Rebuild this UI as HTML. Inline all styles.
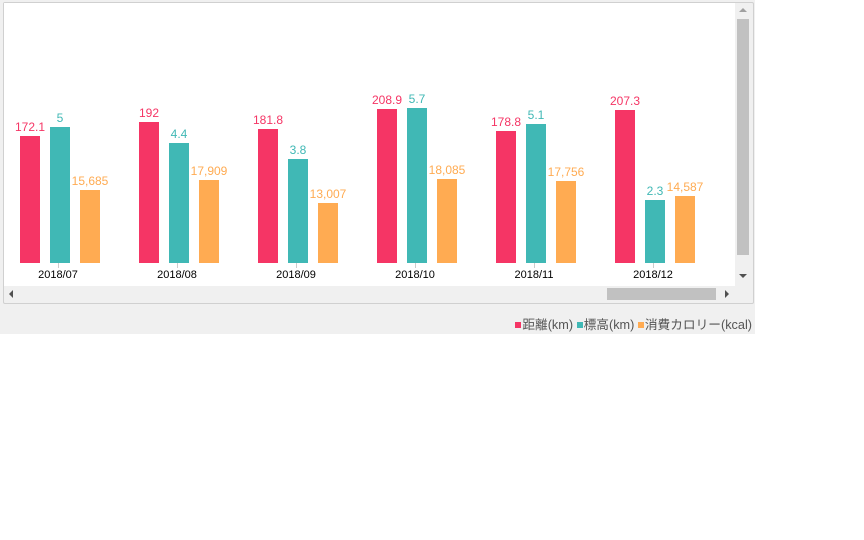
<!DOCTYPE html><html><head><style>
body{margin:0;width:864px;height:540px;background:#fff;font-family:"Liberation Sans","Noto Sans CJK JP",sans-serif;position:relative;overflow:hidden}
.bg{position:absolute;left:0;top:0;width:755px;height:334px;background:#f0f0f0}
.box{position:absolute;left:3px;top:2px;width:749px;height:300px;border:1px solid #d0d0d0;background:#f0f0f0;border-radius:2px}
.plot{position:absolute;left:4px;top:3px;width:731px;height:283px;background:#fff}
.b{position:absolute;width:20px}
.l{position:absolute;font-size:12px;width:60px;text-align:center}
.t{position:absolute;font-size:11px;width:60px;text-align:center;top:269px;color:#000}
.tk{position:absolute;width:1px;height:5px;top:263px;background:#ccc}
.leg{position:absolute;right:112px;top:314px;font-size:12.7px;color:#555;white-space:nowrap}
.sq{display:inline-block;width:6px;height:6px;margin-right:1px;vertical-align:1px}
</style></head><body>
<div class="bg"></div><div class="box"></div><div class="plot"></div>
<div style="position:absolute;left:737px;top:19px;width:12px;height:236px;background:#c1c1c1"></div>
<div style="position:absolute;left:607px;top:288px;width:109px;height:12px;background:#c1c1c1"></div>
<div style="position:absolute;left:739px;top:8px;width:0;height:0;border-left:4px solid transparent;border-right:4px solid transparent;border-bottom:4px solid #a0a0a0"></div>
<div style="position:absolute;left:739px;top:274px;width:0;height:0;border-left:4px solid transparent;border-right:4px solid transparent;border-top:4px solid #505050"></div>
<div style="position:absolute;left:9px;top:290px;width:0;height:0;border-top:4px solid transparent;border-bottom:4px solid transparent;border-right:4px solid #505050"></div>
<div style="position:absolute;left:725px;top:290px;width:0;height:0;border-top:4px solid transparent;border-bottom:4px solid transparent;border-left:4px solid #505050"></div>
<div id="c"></div>
<div class="leg"><span class="sq" style="background:#f53565"></span>距離(km) <span class="sq" style="background:#40b8b5"></span>標高(km) <span class="sq" style="background:#ffab52"></span>消費カロリー(kcal)</div>
<script>
var d=[["2018/07",136,"172.1",127,"5",190,"15,685"],["2018/08",122,"192",143,"4.4",180,"17,909"],["2018/09",129,"181.8",159,"3.8",203,"13,007"],["2018/10",109,"208.9",108,"5.7",179,"18,085"],["2018/11",131,"178.8",124,"5.1",181,"17,756"],["2018/12",110,"207.3",200,"2.3",196,"14,587"]];
var cols=["#f53565","#40b8b5","#ffab52"],h="";
d.forEach(function(g,i){var c=58+119*i;
for(var k=0;k<3;k++){var x=c-38+30*k,top=g[1+2*k];
h+='<div class="b" style="left:'+x+'px;top:'+top+'px;height:'+(263-top)+'px;background:'+cols[k]+'"></div>';
h+='<div class="l" style="left:'+(x-20)+'px;top:'+(top-16)+'px;color:'+cols[k]+'">'+g[2+2*k]+'</div>';}
h+='<div class="tk" style="left:'+c+'px"></div><div class="t" style="left:'+(c-30)+'px">'+g[0]+'</div>';});
document.getElementById("c").innerHTML=h;
</script>
</body></html>
